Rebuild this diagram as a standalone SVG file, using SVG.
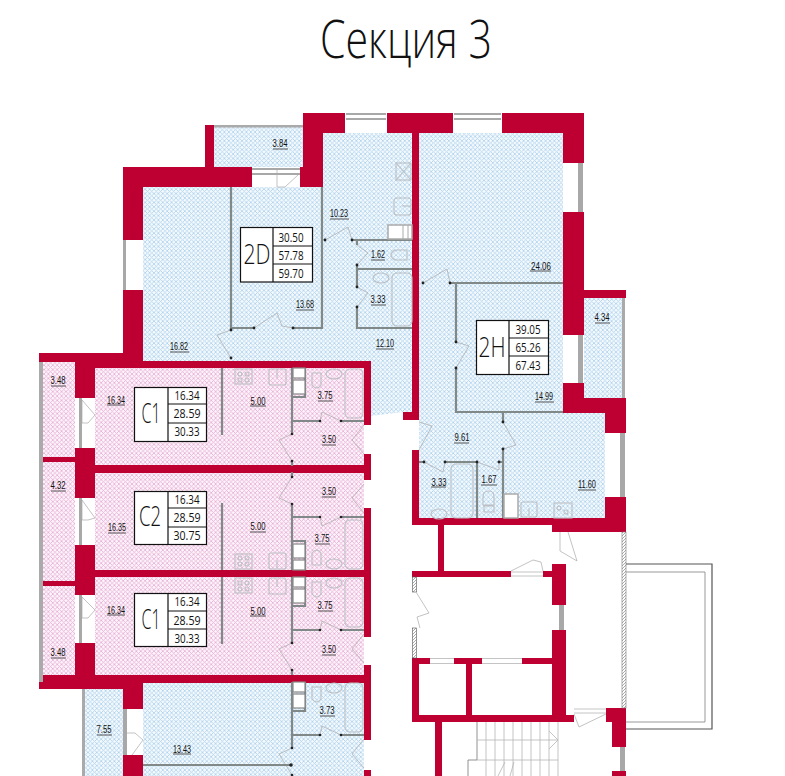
<svg xmlns="http://www.w3.org/2000/svg" xmlns:xlink="http://www.w3.org/1999/xlink" width="785" height="776" viewBox="0 0 785 776">
<style>
.w{fill:#bd0031}
.g{fill:#fff}
.gl{fill:#a8a8a8}
.p{fill:none;stroke:#808888;stroke-width:2.2}
.d{fill:none;stroke:#a9a9a9;stroke-width:.7}
.f{fill:none;stroke:#bcc0c4;stroke-width:1.1}
.n{fill:#222}
.t{font-family:"Liberation Sans",Arial,sans-serif;font-size:10px;fill:#111;text-anchor:middle}
.u{stroke:#555;stroke-width:1}
.b{fill:#fff;stroke:#111;stroke-width:1.2}
.big{font-family:"Open Sans","Liberation Sans",sans-serif;font-weight:300;font-size:28px;fill:#111;text-anchor:middle}
.sm{font-family:"Open Sans","Liberation Sans",sans-serif;font-size:13px;fill:#111;text-anchor:middle}
.st{fill:none;stroke:#b5b5b5;stroke-width:.8}
</style>
<defs>
<pattern id="hb" width="4.4" height="4.4" patternUnits="userSpaceOnUse"><rect width="4.4" height="4.4" fill="#f3f9fd"/><path d="M0 0L4.4 4.4M4.4 0L0 4.4" stroke="#aed2ec" stroke-width=".8"/></pattern>
<pattern id="hp" width="4.4" height="4.4" patternUnits="userSpaceOnUse"><rect width="4.4" height="4.4" fill="#fdf3fa"/><path d="M0 0L4.4 4.4M4.4 0L0 4.4" stroke="#e6aed5" stroke-width=".8"/></pattern>
<pattern id="hg" width="3" height="3" patternUnits="userSpaceOnUse"><rect width="3" height="3" fill="#fff"/><path d="M0 3L3 0" stroke="#888" stroke-width=".7"/></pattern>
<g id="unit">
<path class="p" d="M292 368V434M292 461V466M292 397H305V368M292 421H320M341 421H364"/>
<rect x="293" y="368" width="12" height="10" fill="#fff" stroke="#888" stroke-width="1.2"/><rect x="293" y="380" width="12" height="14" fill="#fff" stroke="#888" stroke-width="1.2"/>
<path class="f" d="M312 373H321V385Q317 391 312 385Z"/><ellipse class="f" cx="334" cy="374" rx="8" ry="5"/>
<rect class="f" x="345" y="369" width="18" height="49" rx="5"/>
<path class="d" d="M292 434L279 440L292 461M320 421L322 412L341 421M364 425L352 440L364 454"/>
<circle class="n" cx="292" cy="434" r="1.3"/><circle class="n" cx="292" cy="461" r="1.3"/><circle class="n" cx="320" cy="421" r="1.3"/><circle class="n" cx="341" cy="421" r="1.3"/>
</g>
<g id="kitchen">
<path class="p" d="M222 368V435"/>
<rect class="f" x="235" y="369" width="17" height="15"/><circle class="f" cx="240" cy="374" r="2"/><circle class="f" cx="247" cy="374" r="2"/><circle class="f" cx="240" cy="380" r="2"/><circle class="f" cx="247" cy="380" r="2"/>
<rect class="f" x="269" y="369" width="17" height="16" rx="2"/><path class="f" d="M277 370V378"/>
</g>
</defs>
<rect width="785" height="776" fill="#fff"/>
<g id="title"><text x="406" y="58" font-family="'Open Sans','Liberation Sans',sans-serif" font-weight="300" font-size="53" fill="#111" text-anchor="middle" textLength="172" lengthAdjust="spacingAndGlyphs">Секция 3</text></g>

<g id="fills">
<path fill="url(#hb)" d="M143 187H323V133H412V412L403 412L371 416V361H143Z"/>
<rect x="214" y="127" width="89" height="40" fill="url(#hb)"/>
<path fill="url(#hb)" d="M419 133H563V412H605V518H419Z"/>
<rect x="584" y="298" width="38" height="100" fill="url(#hb)"/>
<rect x="95" y="368" width="269" height="97" fill="url(#hp)"/>
<rect x="95" y="473" width="269" height="97" fill="url(#hp)"/>
<rect x="95" y="577" width="269" height="98" fill="url(#hp)"/>
<rect x="43" y="362" width="32" height="95" fill="url(#hp)"/>
<rect x="43" y="462" width="32" height="119" fill="url(#hp)"/>
<rect x="43" y="586" width="32" height="96" fill="url(#hp)"/>
<rect x="143" y="683" width="221" height="93" fill="url(#hb)"/>
<rect x="85" y="689" width="38" height="87" fill="url(#hb)"/>
</g>

<g id="walls">
<rect class="w" x="303" y="113" width="280" height="20"/>
<rect class="w" x="303" y="113" width="20" height="74"/>
<rect class="w" x="205" y="125" width="9" height="42"/>
<rect class="w" x="123" y="167" width="200" height="20"/>
<rect class="w" x="123" y="167" width="20" height="194"/>
<rect class="w" x="412" y="113" width="7" height="307"/>
<rect class="w" x="403" y="412" width="15" height="8"/>
<rect class="w" x="412" y="450" width="7" height="75"/>
<rect class="w" x="563" y="113" width="21" height="300"/>
<rect class="w" x="584" y="290" width="42" height="8"/>
<rect class="w" x="563" y="398" width="63" height="15"/>
<rect class="w" x="605" y="398" width="21" height="134"/>
<rect class="w" x="412" y="518" width="213" height="7"/>
<rect class="w" x="552" y="525" width="73" height="7"/>
<rect class="w" x="39" y="353" width="84" height="9"/>
<rect class="w" x="75" y="353" width="20" height="329"/>
<rect class="w" x="39" y="457" width="36" height="5"/>
<rect class="w" x="39" y="581" width="36" height="5"/>
<rect class="w" x="75" y="361" width="296" height="7"/>
<rect class="w" x="95" y="465" width="276" height="8"/>
<rect class="w" x="95" y="570" width="276" height="7"/>
<rect class="w" x="39" y="675" width="332" height="8"/>
<rect class="w" x="39" y="682" width="104" height="7"/>
<rect class="w" x="364" y="361" width="7" height="415"/>
<rect class="w" x="123" y="683" width="20" height="93"/>
<rect class="w" x="438" y="525" width="6" height="46"/>
<rect class="w" x="412" y="571" width="140" height="6"/>
<rect class="w" x="552" y="564" width="14" height="158"/>
<rect class="w" x="412" y="658" width="140" height="6"/>
<rect class="w" x="412" y="658" width="7" height="64"/>
<rect class="w" x="466" y="664" width="6" height="52"/>
<rect class="w" x="412" y="715" width="162" height="7"/>
<rect class="w" x="435" y="722" width="7" height="54"/>
<path class="w" d="M606 708H626V776H612V722H606Z"/>
</g>

<g id="openings">
<rect class="g" x="345" y="113" width="42" height="20"/><rect class="gl" x="346" y="113" width="40" height="2"/><rect class="gl" x="346" y="118" width="40" height="2"/>
<rect class="g" x="453" y="113" width="49" height="20"/><rect class="gl" x="454" y="113" width="47" height="2"/><rect class="gl" x="454" y="118" width="47" height="2"/>
<rect class="g" x="252" y="167" width="48" height="20"/><rect class="gl" x="252" y="168" width="48" height="2"/><rect class="gl" x="252" y="173" width="48" height="2"/>
<path class="d" d="M277 170V187M277 187L285 187L298 175"/>
<rect class="g" x="123" y="240" width="20" height="50"/><rect class="gl" x="123" y="240" width="3" height="50"/>
<rect class="g" x="563" y="163" width="21" height="49"/><rect class="gl" x="578" y="163" width="5" height="49"/>
<rect class="g" x="563" y="335" width="21" height="48"/><rect class="gl" x="578" y="335" width="5" height="48"/>
<rect class="g" x="605" y="433" width="21" height="64"/><rect class="gl" x="620" y="433" width="5" height="64"/>
<rect class="g" x="75" y="398" width="20" height="50"/><rect class="gl" x="79" y="398" width="3" height="50"/><path class="d" d="M82 400V423H88L95 415Z"/>
<rect class="g" x="75" y="498" width="20" height="47"/><rect class="gl" x="79" y="498" width="3" height="47"/><path class="d" d="M82 500V520H88L95 518Z"/>
<rect class="g" x="75" y="595" width="20" height="48"/><rect class="gl" x="79" y="595" width="3" height="48"/><path class="d" d="M82 597V618H88L95 610Z"/>
<rect class="g" x="123" y="709" width="20" height="46"/><rect class="gl" x="123" y="709" width="4" height="46"/><path class="d" d="M127 733H135L143 740L132 755"/>
<rect class="g" x="364" y="425" width="7" height="29"/><rect class="g" x="364" y="480" width="7" height="28"/><rect class="g" x="364" y="637" width="7" height="28"/><rect class="g" x="364" y="740" width="7" height="30"/>
<rect class="g" x="511" y="571" width="32" height="6"/><path class="st" d="M511 572H543M511 576H543"/>
<rect class="g" x="430" y="658" width="24" height="6"/><path class="st" d="M430 658.500H454M430 663.500H454"/>
<rect class="g" x="482" y="658" width="40" height="6"/><path class="st" d="M482 658.500H522M482 663.500H522"/>
<rect class="g" x="552" y="605" width="14" height="25"/><rect class="gl" x="559" y="605" width="5" height="25"/>
<rect class="g" x="612" y="747" width="14" height="24"/><rect class="gl" x="620" y="747" width="5" height="24"/>
<rect class="g" x="574" y="708" width="32" height="6"/><path class="st" d="M574 709H606M574 713H606"/>
<path class="d" d="M574 714L579 727L606 714M511 571L533 560L541 562L543 571M560 532V551L577 561L568 532"/>
</g>

<g id="balconies">
<rect x="214" y="125" width="89" height="2.500" fill="#aaa"/>
<rect x="622" y="298" width="3" height="100" fill="#aaa"/>
<rect x="39" y="362" width="4" height="320" fill="#aaa"/>
<rect x="82" y="689" width="3" height="87" fill="#aaa"/>
<rect x="622" y="532" width="4" height="176" fill="url(#hg)" stroke="#777" stroke-width=".6"/>
<rect x="412.500" y="577" width="4" height="15" fill="url(#hg)" stroke="#555" stroke-width=".6"/>
<rect x="412.500" y="628" width="4" height="30" fill="url(#hg)" stroke="#555" stroke-width=".6"/>
<path fill="none" stroke="#555" stroke-width="1.200" d="M626 564H712V729H626"/>
<path fill="none" stroke="#999" stroke-width="1" d="M626 572H705V722H626"/>
<path class="d" d="M416 592L429 613L417 617L420 628"/>
</g>

<g id="partitions">
<path class="p" d="M231 187V328H254M293 328H322V187M322 187V240M352 240H412M357 240V245M357 265V287M357 307V328H412M357 269H412"/>
<path class="d" d="M231 330L217 335L231 358M254 328L277 313L282 326L293 328M325 240L348 227L352 240M357 245L368 253L357 265M357 287L368 293L357 307"/>
<rect class="f" x="396" y="163" width="15" height="17"/><path class="f" d="M396 163L411 180M411 163L396 180"/>
<rect class="f" x="394" y="198" width="17" height="17" rx="3"/><path class="f" d="M402 206H411"/>
<rect x="388" y="225" width="24" height="14" fill="#fff" stroke="#aaa" stroke-width="1.500"/><path d="M403 225V239M408 225V239" stroke="#aaa" fill="none"/>
<path class="f" d="M407 250H395Q387 255 395 260H407Z"/>
<ellipse class="f" cx="381" cy="278" rx="8" ry="5"/>
<rect class="f" x="392" y="273" width="20" height="53" rx="5"/>
<path class="p" d="M450 283H563M456 283V342M456 368V412H563M503 412V422M503 449V518M419 462H424M445 462H477M477 462V518M499 462H503"/>
<path class="d" d="M423 283L447 269L450 283M456 342L469 346L456 368M503 422L516 445L503 449M419 422L432 426L419 450M424 462L443 472L445 462M477 462L499 470L499 462"/>
<rect class="f" x="451" y="464" width="22" height="54" rx="5"/>
<ellipse class="f" cx="439" cy="514" rx="8" ry="5"/>
<path class="f" d="M483 505V497Q483 491 489 491Q494 491 494 497V505ZM484 506H494V512H484Z"/>
<rect x="504" y="494" width="14" height="24" fill="#fff" stroke="#aaa" stroke-width="1.500"/>
<rect class="f" x="521" y="502" width="16" height="15" rx="2"/><path class="f" d="M529 508V516"/>
<rect class="f" x="554" y="503" width="18" height="15"/><circle class="f" cx="559" cy="508" r="2"/><circle class="f" cx="566" cy="512" r="2"/>
<g fill="#222"><circle cx="231" cy="330" r="1.400"/><circle cx="231" cy="358" r="1.400"/><circle cx="254" cy="328" r="1.400"/><circle cx="293" cy="328" r="1.400"/><circle cx="325" cy="240" r="1.400"/><circle cx="352" cy="240" r="1.400"/><circle cx="357" cy="265" r="1.400"/><circle cx="357" cy="287" r="1.400"/><circle cx="357" cy="307" r="1.400"/><circle cx="423" cy="283" r="1.400"/><circle cx="450" cy="283" r="1.400"/><circle cx="456" cy="342" r="1.400"/><circle cx="456" cy="368" r="1.400"/><circle cx="503" cy="422" r="1.400"/><circle cx="503" cy="449" r="1.400"/><circle cx="424" cy="462" r="1.400"/><circle cx="445" cy="462" r="1.400"/><circle cx="477" cy="462" r="1.400"/><circle cx="499" cy="462" r="1.400"/></g>
<use xlink:href="#unit" href="#unit"/><use xlink:href="#kitchen" href="#kitchen"/>
<use xlink:href="#unit" href="#unit" transform="matrix(1 0 0 -1 0 938)"/><use xlink:href="#kitchen" href="#kitchen" transform="matrix(1 0 0 -1 0 938)"/>
<use xlink:href="#unit" href="#unit" transform="translate(0 209)"/><use xlink:href="#kitchen" href="#kitchen" transform="translate(0 209)"/>
<use xlink:href="#unit" href="#unit" transform="translate(0 314)"/>
<path class="p" d="M143 765H291"/><circle class="n" cx="291" cy="765" r="1.800"/>
</g>

<g id="stair">
<path fill="none" stroke="#777" stroke-width=".8" d="M477 722V760H468V776"/>
<path class="st" d="M477 740H558M477 760H558M486 722V776M495 722V776M504 722V776M513 722V776M522 722V776M531 722V776M540 722V776M549 722V776M558 722V776M549 731L558 740L549 749M498 776L505 762M510 776L514 762"/>
</g>

<g id="labels">
<text class="t" x="280" y="147" textLength="15" lengthAdjust="spacingAndGlyphs">3.84</text><path class="u" d="M273 149H288"/>
<text class="t" x="339" y="217" textLength="18" lengthAdjust="spacingAndGlyphs">10.23</text><path class="u" d="M330 219H349"/>
<text class="t" x="378" y="258" textLength="14" lengthAdjust="spacingAndGlyphs">1.62</text><path class="u" d="M371 260H385"/>
<text class="t" x="378" y="303" textLength="15" lengthAdjust="spacingAndGlyphs">3.33</text><path class="u" d="M371 305H386"/>
<text class="t" x="305" y="308" textLength="18" lengthAdjust="spacingAndGlyphs">13.68</text><path class="u" d="M296 310H314"/>
<text class="t" x="179" y="350" textLength="18" lengthAdjust="spacingAndGlyphs">16.82</text><path class="u" d="M170 352H189"/>
<text class="t" x="385" y="347" textLength="18" lengthAdjust="spacingAndGlyphs">12.10</text><path class="u" d="M376 349H394"/>
<text class="t" x="541" y="270" textLength="20" lengthAdjust="spacingAndGlyphs">24.06</text><path class="u" d="M530 271H551"/>
<text class="t" x="602" y="321" textLength="15" lengthAdjust="spacingAndGlyphs">4.34</text><path class="u" d="M595 323H610"/>
<text class="t" x="544" y="400" textLength="18" lengthAdjust="spacingAndGlyphs">14.99</text><path class="u" d="M535 402H554"/>
<text class="t" x="462" y="441" textLength="15" lengthAdjust="spacingAndGlyphs">9.61</text><path class="u" d="M454 443H469"/>
<text class="t" x="439" y="486" textLength="15" lengthAdjust="spacingAndGlyphs">3.33</text><path class="u" d="M431 487H446"/>
<text class="t" x="489" y="483" textLength="15" lengthAdjust="spacingAndGlyphs">1.67</text><path class="u" d="M481 485H497"/>
<text class="t" x="587" y="488" textLength="18" lengthAdjust="spacingAndGlyphs">11.60</text><path class="u" d="M578 490H596"/>
<text class="t" x="58" y="384" textLength="15" lengthAdjust="spacingAndGlyphs">3.48</text><path class="u" d="M51 386H66"/>
<text class="t" x="116" y="404" textLength="18" lengthAdjust="spacingAndGlyphs">16.34</text><path class="u" d="M107 405H125"/>
<text class="t" x="258" y="405" textLength="15" lengthAdjust="spacingAndGlyphs">5.00</text><path class="u" d="M250 406H266"/>
<text class="t" x="325" y="399" textLength="15" lengthAdjust="spacingAndGlyphs">3.75</text><path class="u" d="M318 401H333"/>
<text class="t" x="329" y="443" textLength="14" lengthAdjust="spacingAndGlyphs">3.50</text><path class="u" d="M322 445H336"/>
<text class="t" x="58" y="489" textLength="15" lengthAdjust="spacingAndGlyphs">4.32</text><path class="u" d="M51 491H66"/>
<text class="t" x="329" y="495" textLength="14" lengthAdjust="spacingAndGlyphs">3.50</text><path class="u" d="M322 497H336"/>
<text class="t" x="117" y="531" textLength="18" lengthAdjust="spacingAndGlyphs">16.35</text><path class="u" d="M108 533H126"/>
<text class="t" x="258" y="530" textLength="15" lengthAdjust="spacingAndGlyphs">5.00</text><path class="u" d="M250 532H266"/>
<text class="t" x="322" y="542" textLength="15" lengthAdjust="spacingAndGlyphs">3.75</text><path class="u" d="M315 544H330"/>
<text class="t" x="116" y="614" textLength="18" lengthAdjust="spacingAndGlyphs">16.34</text><path class="u" d="M107 615H125"/>
<text class="t" x="258" y="615" textLength="15" lengthAdjust="spacingAndGlyphs">5.00</text><path class="u" d="M250 616H266"/>
<text class="t" x="325" y="609" textLength="15" lengthAdjust="spacingAndGlyphs">3.75</text><path class="u" d="M318 611H333"/>
<text class="t" x="329" y="653" textLength="14" lengthAdjust="spacingAndGlyphs">3.50</text><path class="u" d="M322 655H336"/>
<text class="t" x="58" y="656" textLength="15" lengthAdjust="spacingAndGlyphs">3.48</text><path class="u" d="M51 658H66"/>
<text class="t" x="104" y="733" textLength="15" lengthAdjust="spacingAndGlyphs">7.55</text><path class="u" d="M97 735H112"/>
<text class="t" x="182" y="753" textLength="18" lengthAdjust="spacingAndGlyphs">13.43</text><path class="u" d="M173 754H191"/>
<text class="t" x="327" y="714" textLength="15" lengthAdjust="spacingAndGlyphs">3.73</text><path class="u" d="M320 716H335"/>
</g>

<g id="info-2D"><rect class="b" x="240.500" y="227.500" width="72" height="54.500"/><path stroke="#111" stroke-width="1.200" d="M273 227V282M273 246H313M273 264H313"/><text class="big" x="257" y="264" textLength="27" lengthAdjust="spacingAndGlyphs">2D</text><text class="sm" x="291" y="242" textLength="25" lengthAdjust="spacingAndGlyphs">30.50</text><text class="sm" x="291" y="260" textLength="25" lengthAdjust="spacingAndGlyphs">57.78</text><text class="sm" x="291" y="278" textLength="25" lengthAdjust="spacingAndGlyphs">59.70</text></g>
<g id="info-2H"><rect class="b" x="476.500" y="320.500" width="72" height="54"/><path stroke="#111" stroke-width="1.200" d="M509 320V374M509 338H548M509 356H548"/><text class="big" x="492" y="357" textLength="27" lengthAdjust="spacingAndGlyphs">2H</text><text class="sm" x="528" y="334" textLength="25" lengthAdjust="spacingAndGlyphs">39.05</text><text class="sm" x="528" y="352" textLength="25" lengthAdjust="spacingAndGlyphs">65.26</text><text class="sm" x="528" y="370" textLength="25" lengthAdjust="spacingAndGlyphs">67.43</text></g>
<g id="info-C1a"><rect class="b" x="134.500" y="387.500" width="72" height="54"/><path stroke="#111" stroke-width="1.200" d="M168 387V441M168 404H207M168 423H207"/><text class="big" x="151" y="423" textLength="19" lengthAdjust="spacingAndGlyphs">C1</text><text class="sm" x="187" y="400" textLength="25" lengthAdjust="spacingAndGlyphs">16.34</text><text class="sm" x="187" y="418" textLength="27" lengthAdjust="spacingAndGlyphs">28.59</text><text class="sm" x="187" y="436" textLength="25" lengthAdjust="spacingAndGlyphs">30.33</text></g>
<g id="info-C2"><rect class="b" x="134.500" y="491.500" width="72" height="53"/><path stroke="#111" stroke-width="1.200" d="M168 491V544M168 508H207M168 527H207"/><text class="big" x="150" y="526" textLength="22" lengthAdjust="spacingAndGlyphs">C2</text><text class="sm" x="187" y="504" textLength="25" lengthAdjust="spacingAndGlyphs">16.34</text><text class="sm" x="187" y="522" textLength="27" lengthAdjust="spacingAndGlyphs">28.59</text><text class="sm" x="187" y="540" textLength="27" lengthAdjust="spacingAndGlyphs">30.75</text></g>
<g id="info-C1b"><rect class="b" x="134.500" y="593.500" width="72" height="53"/><path stroke="#111" stroke-width="1.200" d="M168 593V647M168 611H207M168 629H207"/><text class="big" x="151" y="629" textLength="19" lengthAdjust="spacingAndGlyphs">C1</text><text class="sm" x="187" y="606" textLength="25" lengthAdjust="spacingAndGlyphs">16.34</text><text class="sm" x="187" y="625" textLength="27" lengthAdjust="spacingAndGlyphs">28.59</text><text class="sm" x="187" y="643" textLength="25" lengthAdjust="spacingAndGlyphs">30.33</text></g>
</svg>
